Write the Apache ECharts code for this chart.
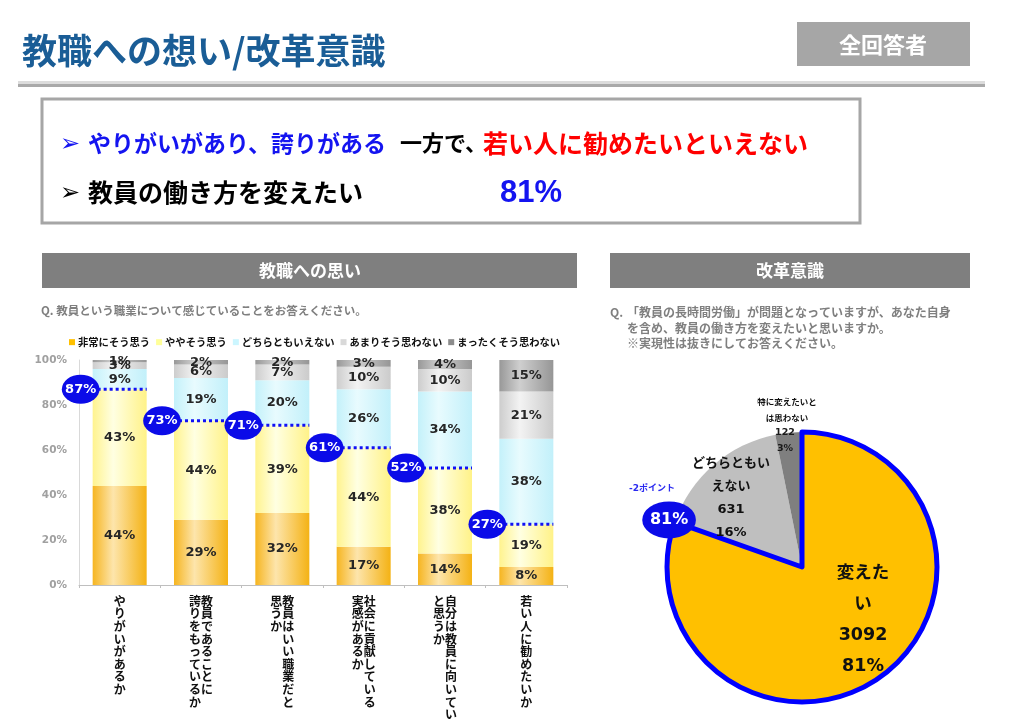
<!DOCTYPE html>
<html><head><meta charset="utf-8">
<script src="https://cdn.jsdelivr.net/npm/echarts@6/dist/echarts.min.js"></script>
<style>html,body{margin:0;padding:0;background:#fff}#c{width:1024px;height:727px}</style>
</head><body><div id="c"></div>
<script>
// ---- data ----
const categories = ['やりがいがあるか', '教員であることに\n誇りをもっているか', '教員はいい職業だと\n思うか', '社会に貢献している\n実感があるか', '自分は教員に向いてい\nと思うか', '若い人に勧めたいか'];
const seriesNames = ['非常にそう思う', 'ややそう思う', 'どちらともいえない', 'あまりそう思わない', 'まったくそう思わない'];
const veryMuch = [44, 29, 32, 17, 14, 8];
const somewhat = [43, 44, 39, 44, 38, 19];
const neutral = [9, 19, 20, 26, 34, 38];
const notMuch = [3, 6, 7, 10, 10, 21];
const notAtAll = [1, 2, 2, 3, 4, 15];
const yTickValues = [0, 20, 40, 60, 80, 100];

const pieNames = ['変えたい', 'どちらともいえない', '特に変えたいとは思わない'];
const pieLabelNames = ['変えた\nい', 'どちらともい\nえない', '特に変えたいと\nは思わない'];
const pieCounts = [3092, 631, 122];
const piePcts = [81, 16, 3];
const pieChangeNote = '-2ポイント';

// ---- helpers ----
const JP = '"Noto Sans CJK JP", sans-serif';
const NUM = '"DejaVu Sans", "Noto Sans CJK JP", sans-serif';
function tate(s) {
  const cols = s.split('\n').map(c => Array.from(c));
  const n = Math.max(...cols.map(c => c.length));
  const rows = [];
  for (let i = 0; i < n; i++) {
    let r = '';
    for (let j = cols.length - 1; j >= 0; j--) r += cols[j][i] || '\u3000';
    rows.push(r);
  }
  return rows.join('\n');
}
function grad(a, b, c) {
  return new echarts.graphic.LinearGradient(0, 0, 1, 0, [
    { offset: 0, color: a }, { offset: 0.38, color: b }, { offset: 1, color: c }]);
}
const barFills = [
  grad('#F6B520', '#FDE5AC', '#F4B214'),
  grad('#FFF38E', '#FFFFE2', '#FFF288'),
  grad('#C4F1FA', '#E8FBFE', '#C2F0FA'),
  grad('#CDCDCD', '#F3F3F3', '#CBCBCB'),
  grad('#989898', '#CFCFCF', '#969696')
];
const legendColors = ['#FFC000', '#FFFF99', '#CCF6FF', '#D9D9D9', '#8C8C8C'];
const seriesValues = [veryMuch, somewhat, neutral, notMuch, notAtAll];
const topTwo = veryMuch.map((v, i) => [i, v + somewhat[i]]);

const barSeries = seriesNames.map((name, k) => ({
  name, type: 'bar', stack: 'total', barWidth: '66.4%',
  data: seriesValues[k],
  itemStyle: { color: barFills[k] },
  label: { show: true, position: 'inside', formatter: p => p.value + '%',
    fontFamily: NUM, fontWeight: 'bold', fontSize: 13, color: '#262626' },
  silent: true, animation: false
}));

const bubbleSeries = {
  type: 'custom', data: topTwo, encode: { x: 0, y: 1 }, z: 10, silent: true, animation: false,
  renderItem(params, api) {
    const v = api.value(1);
    const p = api.coord([api.value(0), v]);
    const cw = api.size([1, 0])[0];
    const bw = cw * 0.664;
    const left = p[0] - bw / 2;
    const cx = left - 12;
    return { type: 'group', children: [
      { type: 'line', shape: { x1: cx + 17, y1: p[1], x2: left + bw, y2: p[1] },
        style: { stroke: '#1010F5', lineWidth: 3, lineDash: [3, 3] } },
      { type: 'circle', x: cx, y: p[1], scaleX: 1.3, shape: { cx: 0, cy: 0, r: 14.5 },
        style: { fill: '#0B0BE8' } },
      { type: 'text', x: cx, y: p[1], style: { text: v + '%', fill: '#fff',
        font: 'bold 13px ' + NUM, align: 'center', verticalAlign: 'middle' } }
    ]};
  }
};

// pie geometry (layout constants)
const pieC = [802, 567], pieR = 135;
const pieTotal = pieCounts.reduce((a, b) => a + b, 0);
const theta = 2 * Math.PI * pieCounts[0] / pieTotal;
const bub = [pieC[0] + 141 * Math.sin(theta), pieC[1] - 141 * Math.cos(theta)];

const pieColors = ['#FFC000', '#BFBFBF', '#7F7F7F'];
const pieSeries = {
  type: 'pie', center: pieC, radius: pieR, startAngle: 90, clockwise: true,
  silent: true, animation: false, label: { show: false }, labelLine: { show: false },
  data: pieNames.map((n, i) => ({ name: n, value: pieCounts[i], itemStyle: { color: pieColors[i], borderWidth: 0 } }))
};
const pieBorder = {
  type: 'pie', center: pieC, radius: pieR, startAngle: 90, clockwise: true, z: 5,
  silent: true, animation: false, label: { show: false }, labelLine: { show: false },
  data: pieNames.map((n, i) => ({ name: n + ' ', value: pieCounts[i],
    itemStyle: { color: 'rgba(0,0,0,0)', borderColor: i === 0 ? '#0000FF' : 'rgba(0,0,0,0)', borderWidth: i === 0 ? 5 : 0 } }))
};

function txt(text, x, y, font, fill, align, extra) {
  return Object.assign({ type: 'text', x, y, z: 100, silent: true,
    style: Object.assign({ text, font, fill, align: align || 'left', verticalAlign: 'middle',
      textAlign: align || 'left', textVerticalAlign: 'middle' }, extra || {}) });
}

const graphics = [
  // title
  txt('教職への想い/改革意識', 22, 51, 'bold 35px ' + JP, '#1A5D96'),
  { type: 'rect', shape: { x: 797, y: 22, width: 173, height: 44 }, style: { fill: '#A6A6A6' }, z: 90 },
  txt('全回答者', 883, 45, 'bold 22px ' + JP, '#FFFFFF', 'center'),
  { type: 'rect', shape: { x: 18, y: 81, width: 967, height: 3 }, style: { fill: '#DCDCDC' }, z: 90 },
  { type: 'rect', shape: { x: 18, y: 84, width: 967, height: 3 }, style: { fill: '#A9A9A9' }, z: 90 },
  // summary box
  { type: 'rect', shape: { x: 42, y: 99, width: 818, height: 124 }, style: { fill: '#fff', stroke: '#A6A6A6', lineWidth: 3 }, z: 90 },
  txt('➢', 60, 145, 'bold 24px "DejaVu Sans"', '#1414F0'),
  txt('やりがいがあり、誇りがある', 88, 143, 'bold 23px ' + JP, '#1414F0'),
  txt('一方で、', 400, 143, 'bold 22px ' + JP, '#000'),
  txt('若い人に勧めたいといえない', 483, 143, 'bold 25px ' + JP, '#FF0000'),
  txt('➢', 60, 194, 'bold 24px "DejaVu Sans"', '#000'),
  txt('教員の働き方を変えたい', 88, 192, 'bold 25px ' + JP, '#000'),
  txt('81%', 500, 193, 'bold 31px "Liberation Sans"', '#1414F0'),
  // section headers
  { type: 'rect', shape: { x: 42, y: 253, width: 535, height: 35 }, style: { fill: '#7F7F7F' }, z: 90 },
  txt('教職への思い', 310, 271, 'bold 17px ' + JP, '#FFFFFF', 'center'),
  { type: 'rect', shape: { x: 610, y: 253, width: 360, height: 35 }, style: { fill: '#7F7F7F' }, z: 90 },
  txt('改革意識', 790, 271, 'bold 17px ' + JP, '#FFFFFF', 'center'),
  // questions
  txt('Q. 教員という職業について感じていることをお答えください。', 41, 311, 'bold 11.5px ' + JP, '#7F7F7F'),
  txt('Q.', 610, 312, 'bold 12px ' + JP, '#7F7F7F'),
  txt('「教員の長時間労働」が問題となっていますが、あなた自身\nを含め、教員の働き方を変えたいと思いますか。\n※実現性は抜きにしてお答えください。', 627, 328, 'bold 12px ' + JP, '#7F7F7F', 'left', { lineHeight: 15.5 }),
  // pie labels
  txt(pieLabelNames[0] + '\n' + pieCounts[0] + '\n' + piePcts[0] + '%', 863, 620, 'bold 17.5px ' + NUM, '#111', 'center', { lineHeight: 31 }),
  txt(pieLabelNames[1] + '\n' + pieCounts[1] + '\n' + piePcts[1] + '%', 731, 498, 'bold 13px ' + NUM, '#111', 'center', { lineHeight: 23 }),
  txt(pieCounts[2] + '\n' + piePcts[2] + '%', 785, 441, 'bold 9.5px ' + NUM, '#1a1a1a', 'center', { lineHeight: 16 }),
  txt(pieLabelNames[2], 787, 410, 'bold 8.5px ' + JP, '#111', 'center', { lineHeight: 16 }),
  // pie bubble
  { type: 'circle', x: bub[0], y: bub[1], scaleX: 1.45, shape: { cx: 0, cy: 0, r: 18.5 }, style: { fill: '#0B0BE8' }, z: 99 },
  txt(piePcts[0] + '%', bub[0], bub[1], 'bold 16px ' + NUM, '#FFFFFF', 'center'),
  txt(pieChangeNote, bub[0] - 40, bub[1] - 31, 'bold 9px ' + NUM, '#2A2AF0')
];

const chart = echarts.init(document.getElementById('c'), null, { renderer: 'canvas' });
chart.setOption({
  animation: false,
  backgroundColor: '#fff',
  legend: {
    left: 64, top: 332, itemWidth: 6, itemHeight: 6, itemGap: 6,
    icon: 'rect', selectedMode: false,
    textStyle: { fontFamily: JP, fontWeight: 'bold', fontSize: 10.3, color: '#111', padding: [0, 0, 0, -2] },
    data: seriesNames.map((n, i) => ({ name: n, itemStyle: { color: legendColors[i] } }))
  },
  grid: { left: 79, right: 457, top: 360, bottom: 142, containLabel: false },
  xAxis: {
    type: 'category', data: categories,
    axisLine: { lineStyle: { color: '#BFBFBF', width: 1 } },
    axisTick: { show: true, length: 3, lineStyle: { color: '#BFBFBF' } },
    axisLabel: { interval: 0, formatter: tate, fontFamily: JP, fontWeight: 'bold', fontSize: 12,
      lineHeight: 12.6, color: '#111', margin: 10, verticalAlign: 'top' }
  },
  yAxis: {
    type: 'value', min: yTickValues[0], max: yTickValues[yTickValues.length - 1], interval: 20,
    axisLine: { show: true, lineStyle: { color: '#D9D9D9' } },
    axisTick: { show: false }, splitLine: { show: false },
    axisLabel: { formatter: '{value}%', fontFamily: NUM, fontWeight: 'bold', fontSize: 10.5, color: '#A0A0A0', margin: 12 }
  },
  series: [...barSeries, bubbleSeries, pieSeries, pieBorder],
  graphic: graphics
});
</script></body></html>
